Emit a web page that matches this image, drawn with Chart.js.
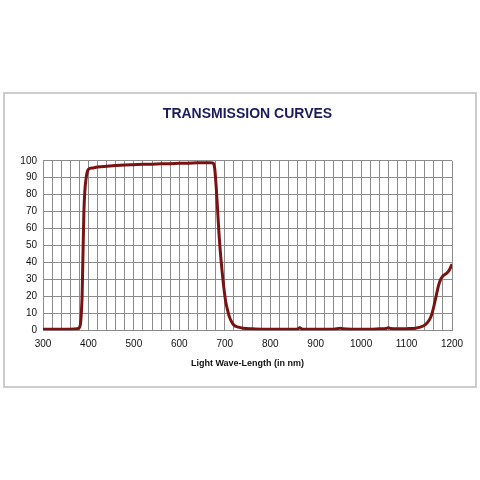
<!DOCTYPE html>
<html>
<head>
<meta charset="utf-8">
<script src="https://cdn.jsdelivr.net/npm/chart.js@4"></script>
<style>
  body { margin: 0; background: #fff; }
  #chart { display: block; }
</style>
</head>
<body>
<canvas id="chart" width="480" height="480"></canvas>
<script>
// wavelength in nm, transmission in %
const wavelength = [300, 320, 340, 360, 375, 380, 383, 386, 388, 390,
  392, 395, 398, 400, 410, 420, 440, 460, 480, 500,
  520, 540, 560, 580, 600, 620, 640, 660, 670, 675,
  678, 681, 684, 687, 690, 694, 698, 702, 706, 710,
  715, 720, 730, 740, 760, 780, 800, 820, 840, 860,
  865, 870, 880, 900, 920, 940, 950, 955, 960, 980,
  1000, 1020, 1040, 1055, 1060, 1065, 1080, 1100, 1120, 1130,
  1140, 1150, 1155, 1160, 1165, 1170, 1175, 1180, 1185, 1190,
  1195, 1200];
const transmission = [0.5, 0.5, 0.5, 0.6, 0.8, 1.5, 5, 20, 45, 70,
  82, 90, 94, 95, 95.8, 96.3, 96.8, 97.2, 97.5, 97.7,
  97.9, 98, 98.2, 98.3, 98.5, 98.6, 98.8, 98.9, 98.9, 98.5,
  95, 85, 72, 58, 47, 35, 25, 17, 12, 8,
  5, 3, 1.8, 1.2, 0.8, 0.6, 0.5, 0.5, 0.5, 0.6,
  1.5, 0.6, 0.5, 0.5, 0.5, 0.6, 1.0, 1.2, 0.8, 0.6,
  0.6, 0.6, 0.8, 1.0, 1.4, 1.0, 0.8, 0.9, 1.2, 1.8,
  3, 6, 9, 14, 20, 26, 30, 32, 33, 34,
  36, 39];

const xLabelStep = 100;

const frameBox = {
  id: "frameBox",
  beforeDraw(chart) {
    const ctx = chart.ctx;
    ctx.save();
    ctx.fillStyle = "#fff";
    ctx.fillRect(0, 0, chart.width, chart.height);
    ctx.strokeStyle = "#cccccc";
    ctx.lineWidth = 2;
    ctx.strokeRect(4, 93, 472, 294);
    ctx.restore();
  },
};

new Chart(document.getElementById("chart"), {
  type: "line",
  data: {
    datasets: [
      {
        data: wavelength.map((w, i) => ({ x: w, y: transmission[i] })),
        borderColor: "#7a1212",
        borderWidth: 3,
        pointRadius: 0,
        cubicInterpolationMode: "monotone",
        fill: false,
      },
    ],
  },
  options: {
    responsive: false,
    animation: false,
    layout: { padding: { left: 0, right: 28, top: 0, bottom: 111 } },
    plugins: {
      legend: { display: false },
      tooltip: { enabled: false },
      title: {
        display: true,
        fullSize: false,
        text: "TRANSMISSION CURVES",
        color: "#1c1c5c",
        font: { family: "Liberation Sans", size: 14, weight: "bold" },
        padding: { top: 106, bottom: 38 },
      },
    },
    scales: {
      x: {
        type: "linear",
        min: 300,
        max: 1200,
        grid: { color: "#8c8c8c", drawTicks: false },
        border: { color: "#8c8c8c" },
        ticks: {
          stepSize: 20,
          autoSkip: false,
          maxRotation: 0,
          padding: 8,
          color: "#111",
          font: { family: "Liberation Sans", size: 10 },
          callback: (v) => (v % xLabelStep === 0 ? String(v) : ""),
        },
        title: {
          display: true,
          text: "Light Wave-Length (in nm)",
          color: "#111",
          font: { family: "Liberation Sans", size: 9, weight: "bold" },
          padding: { top: 0, bottom: 0 },
        },
      },
      y: {
        min: 0,
        max: 100,
        grid: { color: "#8c8c8c", drawTicks: false },
        border: { color: "#8c8c8c" },
        ticks: {
          stepSize: 10,
          padding: 6,
          color: "#111",
          font: { family: "Liberation Sans", size: 10 },
        },
        afterFit(scale) {
          scale.width = 43;
        },
      },
    },
  },
  plugins: [frameBox],
});
</script>
</body>
</html>
